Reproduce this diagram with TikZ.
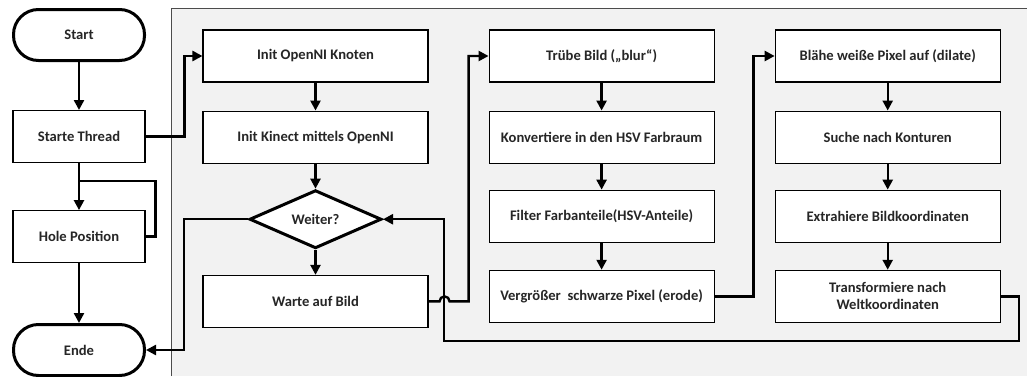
\documentclass[tikz,border=0pt]{standalone}
\usepackage{fontspec}
\setmainfont{Carlito}
\usepackage{tikz}
\usetikzlibrary{positioning, arrows.meta, shapes.geometric}

\begin{document}
\begin{tikzpicture}[
    x=1pt, y=1pt,
    every node/.style={font=\bfseries\fontsize{14.6}{17}\selectfont, text=black!85},
    proc/.style={rectangle, draw, line width=1.1pt, fill=white, minimum width=225pt, minimum height=52pt, align=center, inner sep=2pt},
    side/.style={proc, minimum width=132pt},
    term/.style={rectangle, draw, line width=3pt, rounded corners=25pt, fill=white, minimum width=131pt, minimum height=51pt},
    decide/.style={diamond, draw, line width=3pt, fill=white, minimum width=132pt, minimum height=50pt, inner sep=0pt},
    line/.style={line width=2.4pt},
    arr/.style={line, -{Triangle[length=10pt, width=10pt]}},
]
    \useasboundingbox (0,0) rectangle (1027,376);

    % background panel of the worker thread
    \fill[black!5] (171,0) rectangle (1027,368);
    \draw[black!70, line width=0.8pt] (171,0) -- (171,368) -- (1027,368);

    % main thread
    \node[term] (start) at (79,341) {Start};
    \node[side, below=48pt of start] (thread) {Starte Thread};
    \node[side, below=47pt of thread] (hole) {Hole Position};
    \node[term] (ende) at (79,26) {Ende};

    % worker thread, first column
    \node[proc] (knoten) at (315.5,320) {Init OpenNI Knoten};
    \node[proc, below=28pt of knoten] (kinect) {Init Kinect mittels OpenNI};
    \node[decide, below=25pt of kinect] (weiter) {Weiter?};
    \node[proc, below=25pt of weiter] (warte) {Warte auf Bild};

    % second column
    \node[proc, right=60pt of knoten] (blur) {Trübe Bild („blur“)};
    \node[proc, below=28pt of blur] (hsv) {Konvertiere in den HSV Farbraum};
    \node[proc, below=26pt of hsv] (filter) {Filter Farbanteile(HSV-Anteile)};
    \node[proc, below=27pt of filter] (erode) {Vergrößer\ \ schwarze Pixel (erode)};

    % third column
    \node[proc, right=60pt of blur] (dilate) {Blähe weiße Pixel auf (dilate)};
    \node[proc, below=28pt of dilate] (kontur) {Suche nach Konturen};
    \node[proc, below=26pt of kontur] (bildk) {Extrahiere Bildkoordinaten};
    \node[proc, below=27pt of bildk] (welt) {Transformiere nach\\Weltkoordinaten};

    \coordinate (tj) at (78,195);
    \coordinate (ret) at (444,35);

    \draw[arr] (start) -- (thread);
    \draw[arr] (thread) -- (hole);
    \draw[line] (hole.east) -- ++(10pt,0) |- (tj);
    \draw[arr] (hole) -- (ende);
    \draw[arr] (thread.east) -- ++(39pt,0) |- (knoten.west);

    \draw[arr] (knoten) -- (kinect);
    \draw[arr] (kinect) -- (weiter);
    \draw[arr] (weiter) -- (warte);
    \draw[arr] (weiter.west) -- ++(-64pt,0) |- (ende.east);
    \draw[arr] (warte.east) -- ++(11pt,0) arc[start angle=180, end angle=0, radius=5pt]
        -- ++(19pt,0) |- (blur.west);

    \draw[arr] (blur) -- (hsv);
    \draw[arr] (hsv) -- (filter);
    \draw[arr] (filter) -- (erode);
    \draw[arr] (erode.east) -- ++(39pt,0) |- (dilate.west);

    \draw[arr] (dilate) -- (kontur);
    \draw[arr] (kontur) -- (bildk);
    \draw[arr] (bildk) -- (welt);
    % loop back to the decision
    \draw[arr] (welt.east) -- ++(18pt,0) |- (ret) |- (weiter.east);
\end{tikzpicture}
\end{document}
